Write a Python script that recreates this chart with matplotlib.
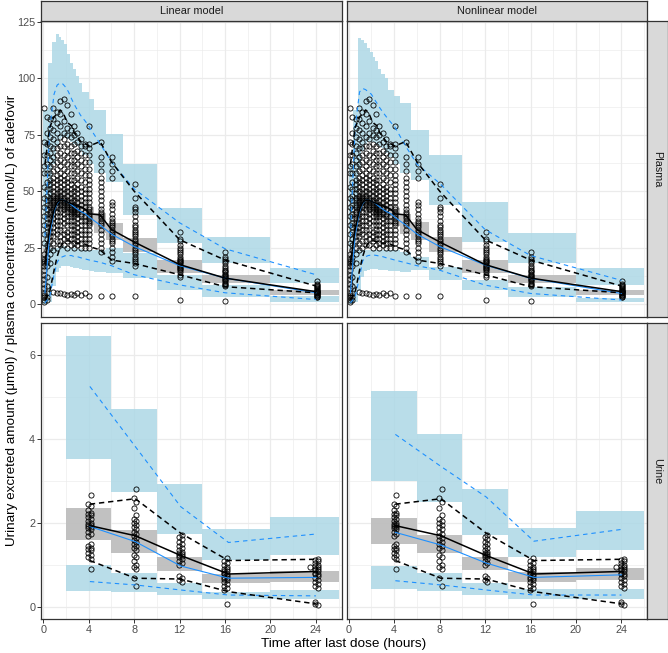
import numpy as np
import matplotlib.pyplot as plt

plt.rcParams['font.family'] = ['Liberation Sans', 'DejaVu Sans']

# ---------------- plasma: bins and lines ----------------
p_edges = [0.0, 0.38, 0.78, 1.1, 1.35, 1.6, 1.85, 2.1, 2.35, 2.6, 2.85, 3.15, 3.45,
           4.0, 4.5, 5.5, 7.05, 10.0, 14.0, 20.0, 26.0]
p_line_t = [0.15, 0.55, 0.95, 1.22, 1.48, 1.72, 1.98, 2.22, 2.48, 2.72, 3.0, 3.3, 3.7,
            4.05, 5.0, 6.0, 8.0, 12.0, 16.0, 24.0]

# linear model
p_lin_up_hi = [86, 107, 116, 119.5, 118.5, 117, 115, 111, 107, 104, 101, 98, 94, 91, 86, 75.5, 62, 42.5, 29.6, 16]
p_lin_up_lo = [15, 45, 62, 70, 73, 74, 74, 73, 72, 71, 70, 68, 66, 62, 58, 54, 39.5, 27, 18, 9.3]
p_lin_med_hi = [25, 42, 48, 51, 52, 51.5, 51, 50, 49, 48, 47, 46, 45, 43, 40.3, 36, 29.3, 19.5, 12.9, 6.2]
p_lin_med_lo = [2, 25, 36, 41, 42, 42, 41.5, 41, 40, 39, 38, 37, 36, 35, 31.4, 28.4, 23, 13.7, 9.3, 4.0]
p_lin_lo_hi = [20, 25, 25, 25, 25.5, 25.5, 25.5, 25, 25, 25, 24.5, 24.5, 24, 24, 24, 24.8, 22.6, 12.9, 8.4, 3.5]
p_lin_lo_lo = [0, 1, 8, 14, 16, 17, 17, 17, 16.5, 16, 16, 15.5, 15, 14.5, 14, 13.7, 11.5, 6.2, 3.1, 1.0]
p_lin_sim95 = [30, 77, 93, 97, 98, 97.5, 96, 94, 91, 88.5, 86, 83.5, 81, 78.5, 71, 63, 51, 36, 24.5, 13]
p_lin_sim50 = [5, 30, 41, 44.5, 46, 46, 45.5, 45, 44, 43, 42, 41, 40, 38.5, 35, 31, 25.5, 17, 11.5, 5]
p_lin_sim05 = [0.5, 3, 13, 18.5, 20.5, 21, 21.5, 21.5, 21.5, 21, 21, 20.5, 20, 19.5, 18.5, 17, 13, 8.5, 5, 2]

# nonlinear model
p_nl_up_hi = [62, 86, 118, 117, 115.5, 113.5, 111.5, 109.5, 107.5, 104, 102, 100, 95, 92, 89, 77, 66, 45.4, 31.4, 15.8]
p_nl_up_lo = [15, 40, 60, 68, 71, 72, 72, 72, 71, 70, 69, 67, 65, 62, 58, 55, 44, 27.6, 18, 8.5]
p_nl_med_hi = [25, 42, 48, 51, 51.5, 51, 50.5, 49.5, 48.5, 47.5, 46.5, 45.5, 44.5, 42.5, 40, 36.5, 29.9, 19.5, 12.9, 6.2]
p_nl_med_lo = [2, 25, 36, 41, 42, 41.5, 41, 40.5, 39.5, 38.5, 37.5, 36.5, 35.5, 34.5, 31, 28.4, 23.2, 13.6, 9.3, 4.0]
p_nl_lo_hi = [20, 24, 24, 24, 24, 24, 24, 24, 24, 24, 24, 24, 24, 24, 23, 21, 16.5, 10.6, 7.7, 2.5]
p_nl_lo_lo = [0, 1, 6, 12, 14.5, 15, 15.5, 15.5, 15.5, 15, 15, 15, 14.5, 14.5, 14.3, 15, 10.6, 6.2, 3.2, 1.0]
p_nl_sim95 = [30, 78, 94, 95.5, 95, 94, 93, 91, 89, 87, 85, 83, 80.5, 78.5, 70, 62, 53.5, 33, 21.5, 10.5]
p_nl_sim50 = [5, 30, 41, 44.5, 46, 46, 45.5, 45, 44, 43, 42, 41, 40, 38.5, 35, 31, 25.5, 17.3, 11.4, 4.7]
p_nl_sim05 = [0.5, 3, 12, 19, 21, 21.5, 21.7, 21.7, 21.5, 21.2, 21, 20.5, 20, 19.5, 18.3, 17, 15, 8.4, 4.7, 1.8]

# observed percentiles (same data in both panels)
p_obs95 = [62, 78, 83, 84, 86, 85, 82, 80, 79, 76, 74, 72, 71, 70, 72, 63, 50, 28.5, 19.5, 8]
p_obs50 = [18, 33, 42, 45, 46, 46, 45.5, 45, 44.5, 44, 43.5, 43, 42, 40, 39.5, 33, 27.5, 17.5, 11.5, 5.5]
p_obs05 = [2, 5, 15, 21, 25, 27, 28, 28, 27.5, 27, 27, 27, 26.5, 25.5, 24, 19.5, 18, 13, 7.7, 5]

# observed plasma concentrations, by sampling time
p_obs_t = [0.1, 0.3, 0.6, 0.9, 1.2, 1.5, 1.8, 2.1, 2.4, 2.7, 3.0, 3.3, 3.65, 4.05,
           5.05, 6.05, 8.05, 12.05, 16.0, 24.05]
p_obs_c = [
    [1, 2, 3, 4, 5, 7, 9, 11, 13, 15, 17, 18, 19, 20, 22, 27, 31, 35, 39, 43, 47, 52, 58, 61, 66, 72, 87],
    [2, 3, 5, 8, 12, 17, 19, 21, 24, 26, 29, 32, 34, 36, 38, 40, 42, 44, 46, 48, 51, 54, 58, 62, 66, 71, 76, 83],
    [18, 22, 25, 28, 30, 32, 34, 36, 38, 40, 41, 43, 44, 46, 47, 49, 51, 53, 55, 58, 61, 64, 67, 70, 74, 78, 82],
    [5.2, 24, 27, 30, 32, 34, 36, 38, 40, 42, 43, 44, 45, 46, 47, 48, 50, 52, 54, 56, 59, 62, 65, 69, 73, 77, 82, 87],
    [4.8, 25, 28, 31, 33, 35, 37, 39, 41, 43, 44, 45, 46, 47, 48, 49, 51, 53, 55, 57, 60, 63, 66, 69, 72, 76, 80, 85],
    [5.0, 26, 28, 30, 33, 35, 37, 39, 41, 42, 44, 45, 46, 47, 48, 50, 52, 54, 56, 58, 61, 64, 67, 70, 74, 79, 84, 90],
    [4.6, 26, 29, 31, 33, 36, 38, 40, 42, 43, 44, 45, 46, 47, 49, 51, 53, 55, 57, 60, 63, 66, 70, 73, 76, 81, 91],
    [4.2, 25, 28, 30, 32, 35, 37, 39, 41, 42, 43, 44, 45, 46, 48, 50, 52, 54, 56, 59, 62, 65, 68, 71, 75, 78, 88],
    [4.6, 26, 29, 31, 33, 35, 37, 39, 40, 41, 42, 43, 44, 45, 47, 49, 51, 53, 55, 58, 61, 64, 67, 70, 74, 77, 84],
    [4.0, 25, 27, 29, 31, 33, 35, 37, 39, 40, 41, 42, 43, 44, 46, 48, 50, 52, 55, 58, 61, 64, 67, 71, 75, 79],
    [5.0, 26, 28, 30, 32, 34, 36, 38, 40, 41, 42, 43, 45, 47, 49, 51, 53, 56, 59, 62, 65, 68, 72, 76],
    [4.2, 25, 27, 29, 31, 33, 35, 37, 39, 40, 42, 44, 46, 48, 50, 52, 55, 58, 61, 64, 67, 70, 73],
    [4.8, 25, 27, 29, 31, 33, 35, 37, 39, 41, 43, 45, 47, 49, 51, 54, 57, 60, 63, 66, 70, 71],
    [3.5, 25, 27, 29, 31, 33, 35, 36, 37, 38, 39, 40, 41, 42, 43, 45, 47, 49, 51, 53, 55, 57, 60, 63, 66, 69, 71, 79],
    [3.6, 23, 25, 27, 29, 31, 33, 35, 36, 37, 38, 39, 40, 41, 42, 44, 46, 48, 50, 52, 54, 56, 59, 62, 65, 72],
    [3.6, 19, 21, 23, 25, 27, 28, 29, 30, 31, 32, 33, 34, 35, 36, 37, 38, 40, 42, 44, 45, 56, 59, 62, 65],
    [3.5, 17, 18, 19, 20, 21, 22, 23, 24, 25, 26, 27, 28, 29, 30, 31, 32, 33, 34, 35, 37, 39, 41, 42, 43, 47, 53],
    [2.0, 12, 13, 14, 15, 15.5, 16, 16.5, 17, 17.5, 18, 18.5, 19, 19.5, 20, 21, 22, 23, 24, 25, 26, 28, 29, 32],
    [1.3, 8, 8.5, 9, 9.5, 10, 10.5, 11, 11.5, 12, 12.5, 13, 13.5, 14, 14.5, 15, 16, 17, 18, 19, 20, 21, 23],
    [3, 3.3, 3.6, 3.9, 4.2, 4.5, 4.8, 5.0, 5.2, 5.4, 5.6, 5.8, 6.0, 6.3, 6.6, 7.0, 7.4, 7.8, 8.5, 9.0, 10.0],
]

# ---------------- urine: bins and lines ----------------
u_edges = [2, 6, 10, 14, 20, 26]
u_line_t = [4.1, 8.1, 12.1, 16.3, 24.0]

u_lin_up_hi = [6.46, 4.71, 2.93, 1.85, 2.15]
u_lin_up_lo = [3.52, 2.73, 1.74, 1.12, 1.24]
u_lin_med_hi = [2.37, 1.84, 1.19, 0.79, 0.86]
u_lin_med_lo = [1.60, 1.30, 0.87, 0.57, 0.61]
u_lin_lo_hi = [1.00, 0.82, 0.57, 0.37, 0.40]
u_lin_lo_lo = [0.39, 0.37, 0.28, 0.19, 0.19]
u_lin_sim95 = [5.25, 3.82, 2.39, 1.54, 1.74]
u_lin_sim50 = [1.92, 1.56, 0.98, 0.69, 0.71]
u_lin_sim05 = [0.61, 0.53, 0.41, 0.29, 0.27]

u_nl_up_hi = [5.13, 4.11, 2.81, 1.88, 2.29]
u_nl_up_lo = [3.01, 2.51, 1.72, 1.19, 1.35]
u_nl_med_hi = [2.12, 1.72, 1.19, 0.83, 0.93]
u_nl_med_lo = [1.51, 1.28, 0.89, 0.59, 0.65]
u_nl_lo_hi = [0.98, 0.82, 0.57, 0.43, 0.43]
u_nl_lo_lo = [0.44, 0.39, 0.29, 0.20, 0.19]
u_nl_sim95 = [4.11, 3.35, 2.62, 1.57, 1.85]
u_nl_sim50 = [1.78, 1.48, 1.05, 0.71, 0.77]
u_nl_sim05 = [0.63, 0.53, 0.41, 0.29, 0.29]

u_obs95 = [2.45, 2.58, 1.76, 1.11, 1.14]
u_obs50 = [1.94, 1.70, 1.23, 0.79, 0.85]
u_obs05 = [1.11, 0.69, 0.67, 0.37, 0.08]

u_obs_t = [3.95, 4.2, 7.95, 8.2, 11.95, 12.2, 15.95, 16.2, 23.5, 23.95, 24.2]
u_obs_c = [
    [2.45, 2.3, 2.22, 2.15, 2.05, 1.98, 1.92, 1.88, 1.8, 1.7, 1.45, 1.38, 1.3, 1.2],
    [2.68, 2.4, 2.25, 2.2, 2.1, 2.0, 1.95, 1.9, 1.85, 1.75, 1.5, 1.4, 1.35, 1.25, 1.15, 0.9],
    [2.6, 2.35, 2.1, 2.0, 1.9, 1.8, 1.7, 1.6, 1.5, 1.4, 1.25, 1.1, 0.95, 0.7],
    [2.82, 2.5, 2.2, 2.05, 1.95, 1.85, 1.75, 1.65, 1.55, 1.45, 1.35, 1.2, 1.0, 0.9, 0.5],
    [1.68, 1.55, 1.45, 1.35, 1.3, 1.25, 1.2, 1.1, 1.0, 0.75, 0.65],
    [1.72, 1.62, 1.5, 1.4, 1.32, 1.27, 1.22, 1.15, 1.05, 0.7, 0.6],
    [1.1, 1.0, 0.92, 0.87, 0.82, 0.78, 0.72, 0.68, 0.6, 0.5, 0.4],
    [1.18, 1.05, 0.95, 0.9, 0.85, 0.8, 0.75, 0.7, 0.65, 0.55, 0.45, 0.08],
    [0.95],
    [1.12, 1.05, 0.97, 0.92, 0.88, 0.82, 0.78, 0.7, 0.6, 0.5, 0.12, 0.08],
    [1.15, 1.1, 1.0, 0.95, 0.9, 0.85, 0.8, 0.75, 0.65, 0.55, 0.45, 0.05],
]

BLUE_FILL = '#ADD8E6'
GREY_FILL = '#BEBEBE'
LINE_BLUE = '#1E90FF'
DARK = '#333333'
W, H = 668, 653

fig = plt.figure(figsize=(W / 100, H / 100), dpi=100)


def px_axes(x0, y0, x1, y1):
    return fig.add_axes([x0 / W, 1 - y1 / H, (x1 - x0) / W, (y1 - y0) / H])


def draw_panel(ax, edges, line_t, bands, sims, obs, obs_t, obs_c):
    up_lo, up_hi, med_lo, med_hi, lo_lo, lo_hi = bands
    ax.stairs(up_hi, edges, baseline=up_lo, fill=True, color=BLUE_FILL, alpha=0.85, lw=0, zorder=1)
    ax.stairs(lo_hi, edges, baseline=lo_lo, fill=True, color=BLUE_FILL, alpha=0.85, lw=0, zorder=1)
    ax.stairs(med_hi, edges, baseline=med_lo, fill=True, color=GREY_FILL, alpha=0.95, lw=0, zorder=1.5)
    for t, cs in zip(obs_t, obs_c):
        ax.plot([t] * len(cs), cs, 'o', mfc='none', mec='black', ms=3.7, mew=0.6, zorder=2)
    s95, s50, s05 = sims
    o95, o50, o05 = obs
    for v in (s95, s05):
        ax.plot(line_t, v, color=LINE_BLUE, lw=0.8, dashes=(4, 3.5), zorder=3)
    ax.plot(line_t, s50, color=LINE_BLUE, lw=0.8, zorder=3)
    for v in (o95, o05):
        ax.plot(line_t, v, color='black', lw=1.1, dashes=(3.5, 2.5), zorder=4)
    ax.plot(line_t, o50, color='black', lw=1.1, zorder=4)


def style_axes(ax, row, col):
    ax.set_xlim(-0.2, 26.25)
    ax.set_xticks(range(0, 25, 4))
    ax.set_xticks(range(2, 27, 4), minor=True)
    if row == 0:
        ax.set_ylim(-5.6, 125.4)
        ax.set_yticks([0, 25, 50, 75, 100, 125])
        ax.set_yticks([12.5, 37.5, 62.5, 87.5, 112.5], minor=True)
    else:
        ax.set_ylim(-0.28, 6.77)
        ax.set_yticks([0, 2, 4, 6])
        ax.set_yticks([1, 3, 5], minor=True)
    ax.grid(which='major', color='#EBEBEB', lw=0.9)
    ax.grid(which='minor', color='#EBEBEB', lw=0.45)
    ax.set_axisbelow(True)
    for s in ax.spines.values():
        s.set_color(DARK)
        s.set_linewidth(0.9)
    ax.tick_params(which='major', length=2.7, width=0.7, color=DARK,
                   labelsize=7.8, labelcolor='#4D4D4D', pad=1.5)
    ax.tick_params(which='minor', length=0)
    if row == 0:
        ax.tick_params(axis='x', length=0, labelbottom=False)
    if col == 1:
        ax.tick_params(axis='y', length=0, labelleft=False)


col_x = [(41, 341.5), (346.5, 647)]
row_y = [(21, 316.7), (322.5, 619)]

panels = [
    [(p_edges, p_line_t,
      (p_lin_up_lo, p_lin_up_hi, p_lin_med_lo, p_lin_med_hi, p_lin_lo_lo, p_lin_lo_hi),
      (p_lin_sim95, p_lin_sim50, p_lin_sim05), (p_obs95, p_obs50, p_obs05), p_obs_t, p_obs_c),
     (p_edges, p_line_t,
      (p_nl_up_lo, p_nl_up_hi, p_nl_med_lo, p_nl_med_hi, p_nl_lo_lo, p_nl_lo_hi),
      (p_nl_sim95, p_nl_sim50, p_nl_sim05), (p_obs95, p_obs50, p_obs05), p_obs_t, p_obs_c)],
    [(u_edges, u_line_t,
      (u_lin_up_lo, u_lin_up_hi, u_lin_med_lo, u_lin_med_hi, u_lin_lo_lo, u_lin_lo_hi),
      (u_lin_sim95, u_lin_sim50, u_lin_sim05), (u_obs95, u_obs50, u_obs05), u_obs_t, u_obs_c),
     (u_edges, u_line_t,
      (u_nl_up_lo, u_nl_up_hi, u_nl_med_lo, u_nl_med_hi, u_nl_lo_lo, u_nl_lo_hi),
      (u_nl_sim95, u_nl_sim50, u_nl_sim05), (u_obs95, u_obs50, u_obs05), u_obs_t, u_obs_c)],
]

for r in range(2):
    for c in range(2):
        x0, x1 = col_x[c]
        y0, y1 = row_y[r]
        ax = px_axes(x0, y0, x1, y1)
        draw_panel(ax, *panels[r][c])
        style_axes(ax, r, c)


def strip(x0, y0, x1, y1, label, rot=0):
    s = px_axes(x0, y0, x1, y1)
    s.set_facecolor('#D9D9D9')
    s.set_xticks([])
    s.set_yticks([])
    for sp in s.spines.values():
        sp.set_color(DARK)
        sp.set_linewidth(0.9)
    s.text(0.5, 0.5, label, transform=s.transAxes, ha='center', va='center',
           rotation=rot, fontsize=7.8, color='#1A1A1A')


strip(41, 1, 341.5, 21, 'Linear model')
strip(346.5, 1, 647, 21, 'Nonlinear model')
strip(647, 21, 667.5, 316.7, 'Plasma', rot=-90)
strip(647, 322.5, 667.5, 619, 'Urine', rot=-90)

fig.text(12 / W, 1 - 320 / H,
         'Urinary excreted amount (\u03bcmol) / plasma concentration (nmol/L) of adefovir',
         rotation=90, ha='center', va='center', fontsize=9.7, color='black')
fig.text(344 / W, 1 - 644 / H, 'Time after last dose (hours)',
         ha='center', va='center', fontsize=9.7, color='black')

fig.savefig('out.png', dpi=100)
